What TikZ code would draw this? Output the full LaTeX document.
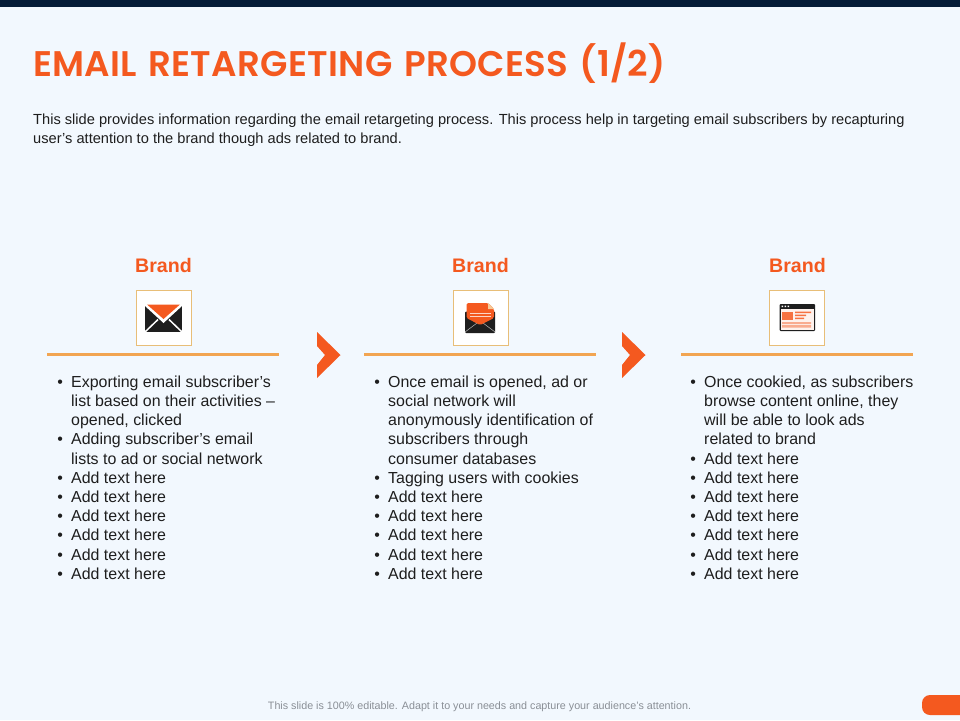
\documentclass[tikz,border=0pt]{standalone}
\usepackage{fontspec}
\setmainfont{Liberation Sans}
\newfontfamily\titlefont[UprightFont=* SemiBold,LetterSpace=0.9,WordSpace=1.3]{Poppins}
\definecolor{bgc}{HTML}{F2F8FE}
\definecolor{navy}{HTML}{051C38}
\definecolor{orng}{HTML}{F4591F}
\definecolor{ruleo}{HTML}{F2A552}
\definecolor{boxo}{HTML}{E8BE78}
\definecolor{ink}{HTML}{1E1E1E}
\definecolor{foot}{HTML}{8A8F96}
\newcommand{\bul}[1]{\llap{\raisebox{0pt}{•}\hspace{8.2pt}}#1}
\tikzset{
  x=1pt,y=1pt,
  head/.style={font=\fontsize{19.6}{22}\selectfont\bfseries,text=orng,anchor=base,inner sep=0},
  iconbox/.style={draw=boxo,fill=white,line width=.9pt,minimum width=55pt,minimum height=55pt,inner sep=0},
  bodytext/.style={font=\fontsize{15.95}{19.2}\selectfont,text=ink,align=left,anchor=north west,inner sep=0},
  chev/.style={fill=orng,draw=none},
  hrule/.style={draw=ruleo,line width=3pt},
}
\begin{document}
\begin{tikzpicture}
\useasboundingbox (0,0) rectangle (960,-720);
\fill[bgc] (0,0) rectangle (960,-720);
\fill[navy] (0,0) rectangle (960,-7);
\node[anchor=base west,inner sep=0,text=orng,font=\titlefont\fontsize{35.6}{40}\selectfont] (title) at (33,-76.8) {EMAIL RETARGETING PROCESS (1/2)};
\node[anchor=base west,inner sep=0,text=ink,font=\fontsize{14.63}{19}\selectfont] (intro1) at (33,-124) {This slide provides information regarding the email retargeting process. This process help in targeting email subscribers by recapturing};
\node[anchor=base west,inner sep=0,text=ink,font=\fontsize{14.63}{19}\selectfont] (intro2) at (33,-143) {user’s attention to the brand though ads related to brand.};

\node[head] (h1) at (163.5,-272) {Brand};
\node[head] (h2) at (480.5,-272) {Brand};
\node[head] (h3) at (797.5,-272) {Brand};

\node[iconbox] (b1) at (163.5,-318) {};
\node[iconbox] (b2) at (480.5,-318) {};
\node[iconbox] (b3) at (797,-318) {};

\draw[hrule] (47,-354) -- (279,-354);
\draw[hrule] (364,-354) -- (596,-354);
\draw[hrule] (681,-354) -- (913,-354);

\fill[chev] (317,-332) -- (340.5,-355) -- (317,-378) -- (317,-365) -- (325,-355) -- (317,-346) -- cycle;
\fill[chev] (622,-332) -- (645.5,-355) -- (622,-378) -- (622,-365) -- (630,-355) -- (622,-346) -- cycle;

% icon 1
\fill[ink] (145,-304.5) rectangle (182,-331.5);
\draw[white,line width=1.5pt] (145,-332) -- (158,-319.5);
\draw[white,line width=1.5pt] (182,-332) -- (169,-319.5);
\fill[white] (145,-304.5) -- (182,-304.5) -- (182,-306) -- (163.5,-323) -- (145,-306) -- cycle;
\fill[orng] (147,-304.5) -- (180,-304.5) -- (163.5,-319) -- cycle;

% icon 2
\fill[ink,rounded corners=1pt] (465,-311.5) rectangle (495,-333);
\draw[white!70!ink,line width=.5pt] (465,-332) -- (477,-323) (495,-332) -- (483,-323);
\fill[orng,rounded corners=1.5pt] (466.5,-303) -- (488,-303) -- (494,-309) -- (494,-318) -- (480,-325) -- (466.5,-318) -- cycle;
\fill[ruleo!60!white] (488,-303) -- (488,-309) -- (494,-309) -- cycle;
\draw[white!75!orng,line width=.8pt] (470,-313.5) -- (491,-313.5) (470,-316.5) -- (491,-316.5);

% icon 3
\fill[ink,rounded corners=1pt] (779.5,-304) rectangle (815,-331);
\fill[white!92!orng] (781,-309) rectangle (813.5,-329.5);
\fill[white] (781.5,-305.5) rectangle (783,-307) (784.5,-305.5) rectangle (786,-307) (787.5,-305.5) rectangle (789,-307);
\fill[orng!85!white] (782,-311.5) rectangle (793,-320);
\fill[orng!85!white] (795,-311.5) rectangle (811,-313) (795,-314.5) rectangle (806,-316) (795,-317.5) rectangle (804,-319);
\fill[orng!50!white] (782,-322) rectangle (811,-324.2) (782,-325.2) rectangle (811,-327.5);

\node[bodytext] (c1) at (71,-375.5) {%
\bul{Exporting email subscriber’s}\\
list based on their activities –\\
opened, clicked\\
\bul{Adding subscriber’s email}\\
lists to ad or social network\\
\bul{Add text here}\\
\bul{Add text here}\\
\bul{Add text here}\\
\bul{Add text here}\\
\bul{Add text here}\\
\bul{Add text here}};
\node[bodytext] (c2) at (388,-375.5) {%
\bul{Once email is opened, ad or}\\
social network will\\
anonymously identification of\\
subscribers through\\
consumer databases\\
\bul{Tagging users with cookies}\\
\bul{Add text here}\\
\bul{Add text here}\\
\bul{Add text here}\\
\bul{Add text here}\\
\bul{Add text here}};
\node[bodytext] (c3) at (704,-375.5) {%
\bul{Once cookied, as subscribers}\\
browse content online, they\\
will be able to look ads\\
related to brand\\
\bul{Add text here}\\
\bul{Add text here}\\
\bul{Add text here}\\
\bul{Add text here}\\
\bul{Add text here}\\
\bul{Add text here}\\
\bul{Add text here}};

\node[anchor=base,inner sep=0,text=foot,font=\fontsize{10.73}{12}\selectfont] (foot) at (479.5,-709) {This slide is 100\% editable.  Adapt it to your needs and capture your audience's attention.};
\fill[orng,rounded corners=8pt] (922,-695) rectangle (975,-715);
\end{tikzpicture}
\end{document}
